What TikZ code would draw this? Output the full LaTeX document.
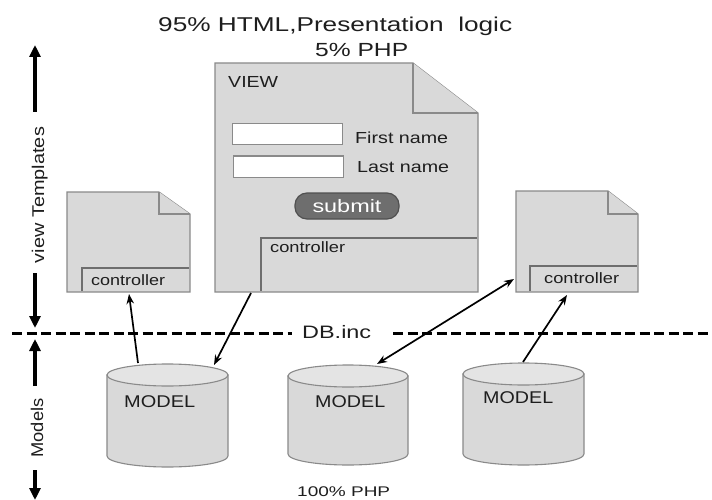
\documentclass[tikz,border=0pt]{standalone}
\usepackage{fontspec}
\setmainfont{Liberation Sans}
\usetikzlibrary{arrows.meta}
\definecolor{docfill}{HTML}{D9D9D9}
\definecolor{docline}{HTML}{8A8A8A}
\definecolor{ctrlline}{HTML}{6E6E6E}
\definecolor{cyltop}{HTML}{E4E4E4}
\definecolor{btnfill}{HTML}{6E6E6E}
\definecolor{btnline}{HTML}{505050}
\definecolor{ink}{HTML}{1E1E1E}
\newcommand\wtxt[3]{\resizebox{#1pt}{\height}{\fontsize{#2}{#2}\selectfont #3}}
\newcommand\docpath[6]{%
  \filldraw[docstyle] (#1,#2) -- ({#3-#5},#2) -- (#3,{#2+#6}) -- (#3,#4) -- (#1,#4) -- cycle;
  \draw[docstyle] ({#3-#5},#2) -- ({#3-#5},{#2+#6}) -- (#3,{#2+#6});}
% x1 x2 ct cb : cylinder with ry = 11
\newcommand\cylpath[4]{%
  \pgfmathsetmacro\cxx{(#1+#2)/2}\pgfmathsetmacro\krx{0.5523*(#2-#1)/2}%
  \filldraw[cylstyle] (#1,#3) -- (#1,#4) .. controls (#1,{#4+6.08}) and ({\cxx-\krx},{#4+11}) .. (\cxx,{#4+11})
     .. controls ({\cxx+\krx},{#4+11}) and (#2,{#4+6.08}) .. (#2,#4) -- (#2,#3) -- cycle;
  \filldraw[cylstyle, fill=cyltop] (\cxx,#3) ellipse [x radius={(#2-#1)/2}, y radius=11];}
\begin{document}
\begin{tikzpicture}[x=1pt,y=-1pt,
  docstyle/.style={fill=docfill, draw=docline, line width=1.1pt, line join=miter},
  cylstyle/.style={fill=docfill, draw=docline, line width=1.1pt},
  ctrlstyle/.style={draw=ctrlline, line width=2.6pt},
  lbl/.style={inner sep=0pt, text=ink},
  inbox/.style={draw=docline, fill=white, line width=1pt, inner sep=0pt, minimum width=110pt, minimum height=21pt},
  btn/.style={draw=btnline, fill=btnfill, line width=1.2pt, rounded corners=12pt, inner sep=0pt,
    minimum width=104pt, minimum height=26pt, text=white},
  bigarrow/.style={line width=3.4pt, -{Triangle[length=12pt,width=11pt]}},
  conn/.style={line width=1.7pt, -{Stealth[length=10pt,width=7.5pt]}},
  dconn/.style={line width=1.7pt, {Stealth[length=10pt,width=7.5pt]}-{Stealth[length=10pt,width=7.5pt]}},
  sep/.style={line width=3pt, dash pattern=on 10pt off 4.5pt}]
\useasboundingbox (0,0) rectangle (712,500);
\fill[white] (0,0) rectangle (712,500);

% title
\node[lbl, anchor=base west] (title1) at (158,32) {\wtxt{354}{20}{95\% HTML,Presentation\ \ logic}};
\node[lbl, anchor=base west] (title2) at (315,57) {\wtxt{93}{19}{5\% PHP}};

% documents
\docpath{67}{192}{190}{292}{31}{22}
\draw[ctrlstyle] (82,291) -- (82,268) -- (189,268);
\docpath{215}{63}{478}{292}{65}{50}
\draw[ctrlstyle] (261,291) -- (261,238) -- (477,238);
\docpath{516}{191}{638}{292}{30}{23}
\draw[ctrlstyle] (530,291) -- (530,266) -- (637,266);

% view contents
\node[lbl, anchor=base west] (viewlbl) at (228,88) {\wtxt{50}{16}{VIEW}};
\node[inbox] (inFirst) at (287,134.5) {};
\node[inbox] (inLast) at (288,166.5) {};
\node[lbl, anchor=base west] (firstlbl) at (355,144) {\wtxt{93}{16}{First name}};
\node[lbl, anchor=base west] (lastlbl) at (357,172) {\wtxt{92}{16}{Last name}};
\node[btn] (submit) at (347,206) {\wtxt{69}{18}{submit}};
\node[lbl, anchor=base west] (ctrlV) at (270,252) {\wtxt{75}{15}{controller}};
\node[lbl, anchor=base west] (ctrlL) at (91,285) {\wtxt{74}{15}{controller}};
\node[lbl, anchor=base west] (ctrlR) at (544,283) {\wtxt{75}{15}{controller}};

% separator
\node[lbl, anchor=base west] (dbinc) at (302,338) {\wtxt{69}{18}{DB.inc}};
\coordinate (sepA) at (12,333);
\coordinate (sepB) at (292,333);
\coordinate (sepC) at (393,333);
\coordinate (sepD) at (712,333);
\draw[sep] (sepA) -- (sepB);
\draw[sep] (sepC) -- (sepD);

% cylinders
\cylpath{107}{228}{375}{456}
\cylpath{288}{408}{376}{454}
\cylpath{463}{584}{374}{454}
\node[lbl, anchor=base west] (modelL) at (124,407) {\wtxt{71}{17}{MODEL}};
\node[lbl, anchor=base west] (modelM) at (315,407) {\wtxt{70}{17}{MODEL}};
\node[lbl, anchor=base west] (modelR) at (483,403) {\wtxt{70}{17}{MODEL}};
\node[lbl, anchor=base west] (php) at (297,496) {\wtxt{93}{14}{100\% PHP}};

% side labels
\node[lbl, rotate=90, anchor=base] (vtlbl) at (44,195) {\wtxt{136}{17}{view Templates}};
\node[lbl, rotate=90, anchor=base] (mdlbl) at (43,428) {\wtxt{59}{17}{Models}};
\coordinate (vtA) at (35,112); \coordinate (vtB) at (35,45);
\coordinate (vtC) at (35,273); \coordinate (vtD) at (35,328);
\coordinate (mdA) at (35,386); \coordinate (mdB) at (35,339);
\coordinate (mdC) at (35,470); \coordinate (mdD) at (35,500);
\draw[bigarrow] (vtA) -- (vtB);
\draw[bigarrow] (vtC) -- (vtD);
\draw[bigarrow] (mdA) -- (mdB);
\draw[bigarrow] (mdC) -- (mdD);

% connectors
\coordinate (cylLa) at (138,363); \coordinate (docLb) at (129,294);
\coordinate (viewB) at (251,293); \coordinate (cylLb) at (214,365);
\coordinate (cylMa) at (377,364); \coordinate (docRl) at (514,279);
\coordinate (cylRa) at (523,362); \coordinate (docRb) at (567,295);
\draw[conn] (cylLa) -- (docLb);
\draw[conn] (viewB) -- (cylLb);
\draw[dconn] (cylMa) -- (docRl);
\draw[conn] (cylRa) -- (docRb);
\end{tikzpicture}
\end{document}
